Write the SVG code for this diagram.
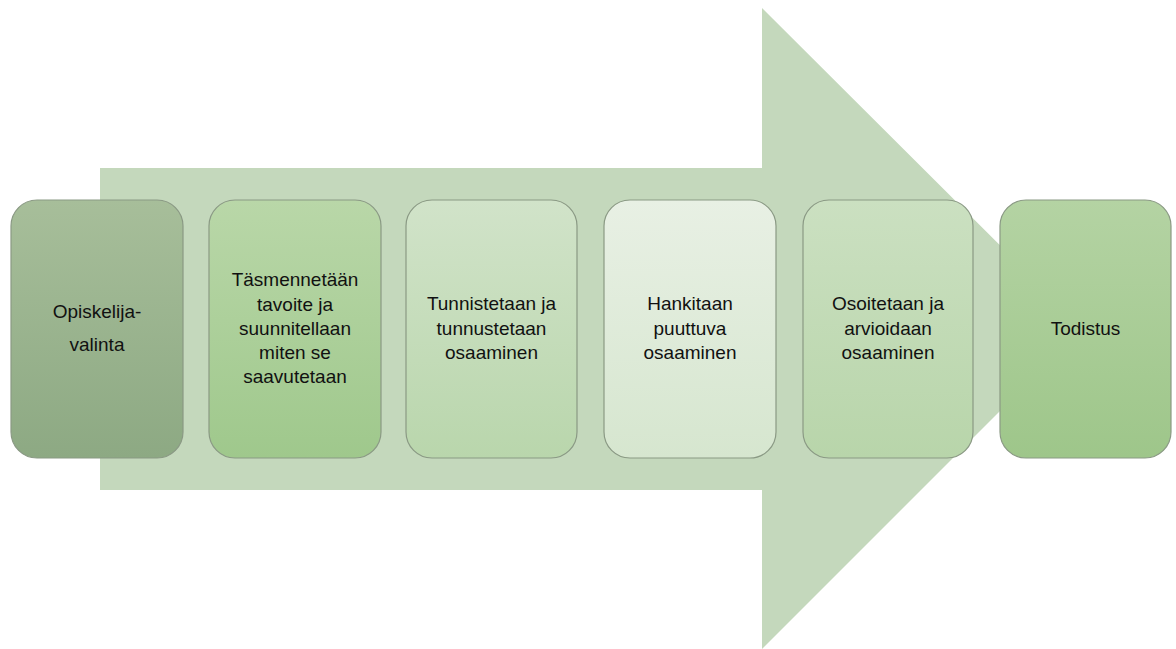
<svg xmlns="http://www.w3.org/2000/svg" width="1176" height="649" viewBox="0 0 1176 649">
<defs>
<linearGradient id="g1" x1="0" y1="0" x2="0" y2="1"><stop offset="0" stop-color="#a7be9a"/><stop offset="1" stop-color="#8da983"/></linearGradient>
<linearGradient id="g2" x1="0" y1="0" x2="0" y2="1"><stop offset="0" stop-color="#b9d7a8"/><stop offset="1" stop-color="#9fc88c"/></linearGradient>
<linearGradient id="g3" x1="0" y1="0" x2="0" y2="1"><stop offset="0" stop-color="#d1e3c9"/><stop offset="1" stop-color="#b9d6ac"/></linearGradient>
<linearGradient id="g4" x1="0" y1="0" x2="0" y2="1"><stop offset="0" stop-color="#e8f0e4"/><stop offset="1" stop-color="#d6e6cf"/></linearGradient>
<linearGradient id="g5" x1="0" y1="0" x2="0" y2="1"><stop offset="0" stop-color="#cbe0c1"/><stop offset="1" stop-color="#b8d5aa"/></linearGradient>
<linearGradient id="g6" x1="0" y1="0" x2="0" y2="1"><stop offset="0" stop-color="#b4d3a3"/><stop offset="1" stop-color="#9ec68a"/></linearGradient>
</defs>
<style>
.box{stroke:#8a9984;stroke-width:1.2}
.t{font-family:"Liberation Sans",Arial,sans-serif;font-size:19px;fill:#111;text-anchor:middle}
</style>
<g id="arrow">
<polygon points="100,168 762,168 762,8 1083,328 762,649 762,490 100,490" fill="#c4d8bc"/>
</g>
<g id="connectors"/>
<g id="n1">
<rect class="box" x="11" y="200" width="172" height="258" rx="26" fill="url(#g1)"/>
<text class="t" x="97" y="318">Opiskelija-</text>
<text class="t" x="97" y="351">valinta</text>
</g>
<g id="n2">
<rect class="box" x="209" y="200" width="172" height="258" rx="26" fill="url(#g2)"/>
<text class="t" x="295" y="286">Täsmennetään</text>
<text class="t" x="295" y="310.5">tavoite ja</text>
<text class="t" x="295" y="334.5">suunnitellaan</text>
<text class="t" x="295" y="359">miten se</text>
<text class="t" x="295" y="383">saavutetaan</text>
</g>
<g id="n3">
<rect class="box" x="406" y="200" width="171" height="258" rx="26" fill="url(#g3)"/>
<text class="t" x="491.5" y="310">Tunnistetaan ja</text>
<text class="t" x="491.5" y="334.5">tunnustetaan</text>
<text class="t" x="491.5" y="359">osaaminen</text>
</g>
<g id="n4">
<rect class="box" x="604" y="200" width="172" height="258" rx="26" fill="url(#g4)"/>
<text class="t" x="690" y="310">Hankitaan</text>
<text class="t" x="690" y="334.5">puuttuva</text>
<text class="t" x="690" y="359">osaaminen</text>
</g>
<g id="n5">
<rect class="box" x="803" y="200" width="170" height="258" rx="26" fill="url(#g5)"/>
<text class="t" x="888" y="310">Osoitetaan ja</text>
<text class="t" x="888" y="334.5">arvioidaan</text>
<text class="t" x="888" y="359">osaaminen</text>
</g>
<g id="n6">
<rect class="box" x="1000" y="200" width="171" height="258" rx="26" fill="url(#g6)"/>
<text class="t" x="1085.5" y="335">Todistus</text>
</g>
</svg>
